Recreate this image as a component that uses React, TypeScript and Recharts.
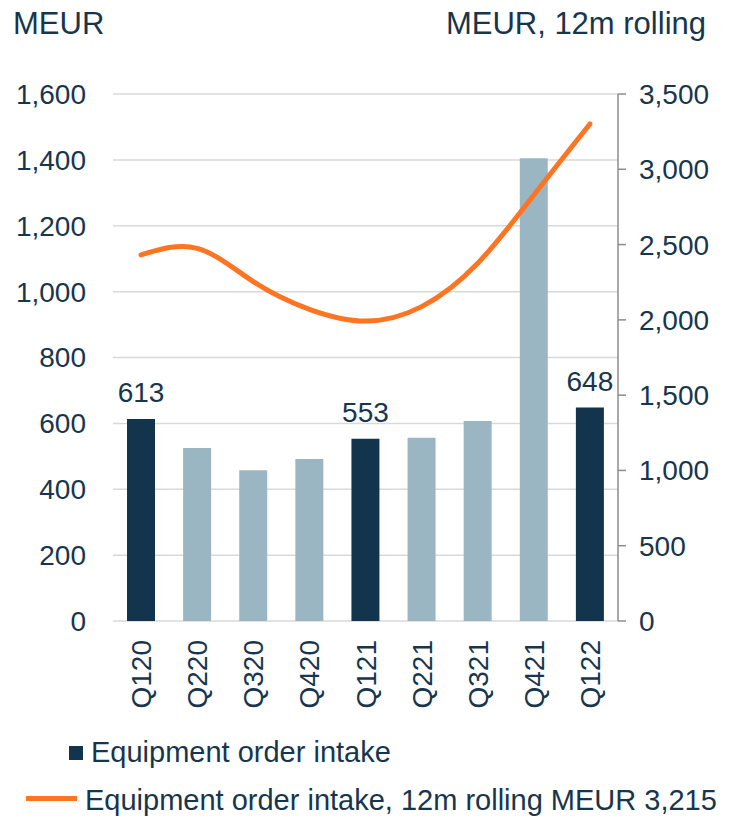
import React from 'react';
import {
  ComposedChart, Bar, Line, XAxis, YAxis, CartesianGrid, Cell, LabelList,
} from 'recharts';

const quarters = ['Q120', 'Q220', 'Q320', 'Q420', 'Q121', 'Q221', 'Q321', 'Q421', 'Q122'];
const orderIntake = [613, 525, 458, 492, 553, 556, 607, 1405, 648];
const rolling12m = [2431, 2475, 2254, 2070, 1992, 2088, 2376, 2829, 3301];
const highlightedQuarters = ['Q120', 'Q121', 'Q122'];
const leftTicks = [0, 200, 400, 600, 800, 1000, 1200, 1400, 1600];
const rightTicks = [0, 500, 1000, 1500, 2000, 2500, 3000, 3500];

const NAVY = '#12344d';
const LIGHT = '#9bb6c3';
const ORANGE = '#fd7522';
const TEXT = '#17364d';
const FONT = '"Liberation Sans", Arial, sans-serif';

const data = quarters.map((q, i) => ({
  quarter: q,
  intake: orderIntake[i],
  rolling: rolling12m[i],
  highlight: highlightedQuarters.includes(q),
}));

const fmt = (v: number) => v.toLocaleString('en-US');

function QuarterTick({ x, y, payload }: any) {
  return (
    <text
      x={x}
      y={y}
      transform={`rotate(-90, ${x}, ${y})`}
      textAnchor="end"
      dy="0.36em"
      fill={TEXT}
      fontSize={28}
      fontFamily={FONT}
    >
      {payload.value}
    </text>
  );
}

function ValueLabel(props: any) {
  const { x, y, width, value, index } = props;
  if (!data[index].highlight) return null;
  return (
    <text x={x + width / 2} y={y - 17} textAnchor="middle" fill={TEXT} fontSize={28} fontFamily={FONT}>
      {value}
    </text>
  );
}

export default function App() {
  return (
    <div style={{ position: 'absolute', left: 0, top: 0, width: 730, height: 817, background: '#fff' }}>
      <ComposedChart
        width={730}
        height={720}
        data={data}
        margin={{ top: 94, right: 0, left: 0, bottom: 0 }}
      >
        <CartesianGrid yAxisId="left" vertical={false} stroke="#d9d9d9" strokeWidth={1.5} />
        <XAxis
          dataKey="quarter"
          height={99}
          tickLine={false}
          axisLine={false}
          tickSize={0}
          tickMargin={19}
          interval={0}
          tick={<QuarterTick />}
        />
        <YAxis
          yAxisId="left"
          width={113}
          domain={[0, 1600]}
          ticks={leftTicks}
          tickFormatter={fmt}
          axisLine={false}
          tickLine={false}
          tickSize={0}
          tickMargin={27}
          tick={{ fill: TEXT, fontSize: 28, fontFamily: FONT }}
        />
        <YAxis
          yAxisId="right"
          orientation="right"
          width={112}
          domain={[0, 3500]}
          ticks={rightTicks}
          tickFormatter={fmt}
          axisLine={{ stroke: '#8c8c8c', strokeWidth: 1.5 }}
          tickLine={{ stroke: '#8c8c8c', strokeWidth: 1.5 }}
          tickSize={8}
          tickMargin={13}
          tick={{ fill: TEXT, fontSize: 28, fontFamily: FONT }}
        />
        <Bar yAxisId="left" dataKey="intake" barSize={28} isAnimationActive={false}>
          {data.map((d) => (
            <Cell key={d.quarter} fill={d.highlight ? NAVY : LIGHT} />
          ))}
          <LabelList dataKey="intake" content={<ValueLabel />} />
        </Bar>
        <Line
          yAxisId="right"
          type="natural"
          dataKey="rolling"
          stroke={ORANGE}
          strokeWidth={5}
          strokeLinecap="round"
          dot={false}
          activeDot={false}
          isAnimationActive={false}
        />
      </ComposedChart>

      <svg
        width={730}
        height={817}
        style={{ position: 'absolute', left: 0, top: 0, pointerEvents: 'none' }}
        fontFamily={FONT}
      >
        <text x={13} y={34} fontSize={31} fill={TEXT}>MEUR</text>
        <text x={706} y={34} fontSize={31} fill={TEXT} textAnchor="end">MEUR, 12m rolling</text>

        <rect x={69} y={746} width={14} height={14} fill={NAVY} />
        <text x={91} y={762} fontSize={29} fill={TEXT}>Equipment order intake</text>

        <line x1={26} y1={798.5} x2={77} y2={798.5} stroke={ORANGE} strokeWidth={5} />
        <text x={85} y={810} fontSize={29} fill={TEXT}>Equipment order intake, 12m rolling MEUR 3,215</text>
      </svg>
    </div>
  );
}
